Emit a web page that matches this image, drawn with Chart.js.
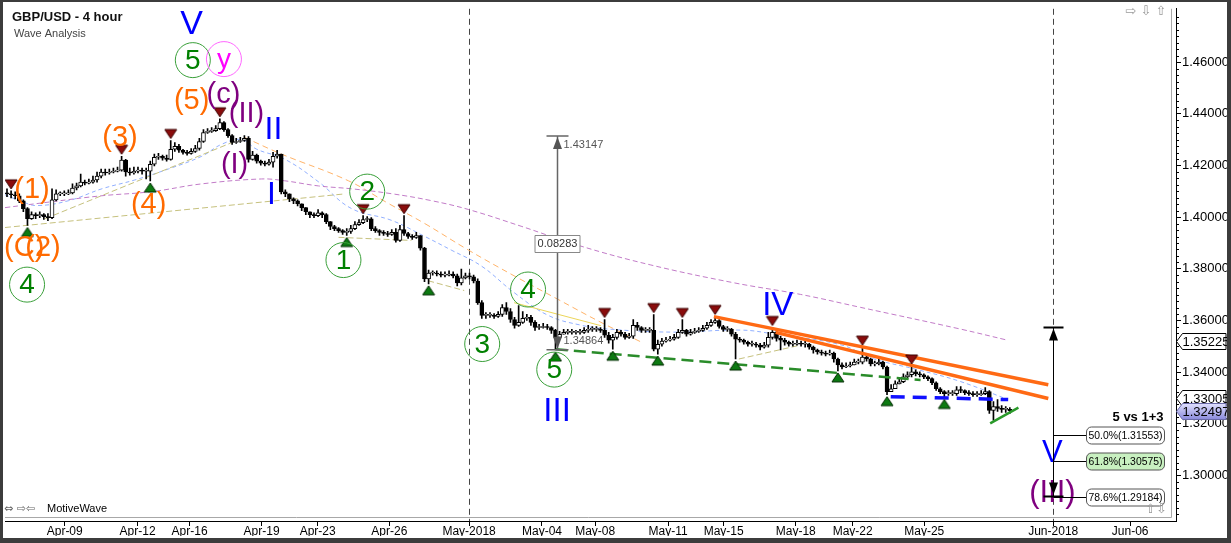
<!DOCTYPE html>
<html>
<head>
<meta charset="utf-8">
<script src="https://cdn.jsdelivr.net/npm/chart.js@4.4.1/dist/chart.umd.min.js"></script>
<style>
  html, body { margin: 0; padding: 0; background: #3c3c3c; }
  canvas { display: block; }
</style>
</head>
<body>
<canvas id="chart" width="1231" height="543"></canvas>
<script>
// -----------------------------------------------------------------------
// Data (GBP/USD 4h bars)
// -----------------------------------------------------------------------

const firstOpen = 1.4094;
const closes = [
  1.4090, 1.4087, 1.4083, 1.4063, 1.4033, 1.3994, 1.4010, 1.4006, 1.4010, 1.4002,
  1.3998, 1.4067, 1.4090, 1.4090, 1.4090, 1.4094, 1.4113, 1.4121, 1.4136, 1.4132,
  1.4136, 1.4144, 1.4159, 1.4175, 1.4171, 1.4175, 1.4178, 1.4182, 1.4221, 1.4175,
  1.4171, 1.4178, 1.4182, 1.4178, 1.4178, 1.4205, 1.4232, 1.4236, 1.4228, 1.4224,
  1.4263, 1.4274, 1.4259, 1.4251, 1.4247, 1.4255, 1.4266, 1.4293, 1.4328, 1.4332,
  1.4335, 1.4343, 1.4366, 1.4339, 1.4316, 1.4289, 1.4293, 1.4297, 1.4305, 1.4224,
  1.4240, 1.4217, 1.4209, 1.4205, 1.4213, 1.4236, 1.4244, 1.4098, 1.4090, 1.4071,
  1.4063, 1.4052, 1.4037, 1.4021, 1.4010, 1.4006, 1.4017, 1.4010, 1.3983, 1.3964,
  1.3956, 1.3948, 1.3941, 1.3945, 1.3956, 1.3971, 1.3979, 1.3991, 1.3994, 1.3956,
  1.3948, 1.3941, 1.3937, 1.3933, 1.3941, 1.3910, 1.3952, 1.3937, 1.3926, 1.3922,
  1.3929, 1.3880, 1.3761, 1.3784, 1.3784, 1.3780, 1.3776, 1.3776, 1.3780, 1.3773,
  1.3746, 1.3765, 1.3773, 1.3769, 1.3753, 1.3669, 1.3620, 1.3620, 1.3620, 1.3616,
  1.3624, 1.3650, 1.3635, 1.3604, 1.3581, 1.3593, 1.3608, 1.3612, 1.3593, 1.3573,
  1.3573, 1.3577, 1.3573, 1.3562, 1.3535, 1.3547, 1.3554, 1.3554, 1.3554, 1.3554,
  1.3554, 1.3562, 1.3566, 1.3566, 1.3566, 1.3562, 1.3543, 1.3524, 1.3535, 1.3554,
  1.3547, 1.3535, 1.3539, 1.3581, 1.3573, 1.3562, 1.3562, 1.3562, 1.3489, 1.3508,
  1.3520, 1.3524, 1.3528, 1.3535, 1.3554, 1.3562, 1.3547, 1.3554, 1.3558, 1.3562,
  1.3570, 1.3581, 1.3593, 1.3600, 1.3577, 1.3566, 1.3566, 1.3547, 1.3528, 1.3524,
  1.3516, 1.3508, 1.3508, 1.3505, 1.3497, 1.3505, 1.3535, 1.3554, 1.3531, 1.3524,
  1.3516, 1.3508, 1.3508, 1.3512, 1.3508, 1.3508, 1.3497, 1.3486, 1.3478, 1.3474,
  1.3470, 1.3474, 1.3451, 1.3428, 1.3420, 1.3424, 1.3428, 1.3439, 1.3439, 1.3458,
  1.3451, 1.3432, 1.3432, 1.3439, 1.3420, 1.3325, 1.3336, 1.3355, 1.3363, 1.3382,
  1.3390, 1.3401, 1.3394, 1.3390, 1.3382, 1.3375, 1.3359, 1.3336, 1.3325, 1.3317,
  1.3317, 1.3317, 1.3332, 1.3329, 1.3321, 1.3317, 1.3313, 1.3313, 1.3317, 1.3325,
  1.3252, 1.3267, 1.3260, 1.3256, 1.3256, 1.3250
];
const highs = [
  1.4110, 1.4102, 1.4098, 1.4090, 1.4067, 1.4037, 1.4021, 1.4017, 1.4021, 1.4014,
  1.4014, 1.4110, 1.4106, 1.4098, 1.4102, 1.4106, 1.4129, 1.4132, 1.4167, 1.4144,
  1.4148, 1.4159, 1.4175, 1.4186, 1.4186, 1.4186, 1.4190, 1.4194, 1.4236, 1.4224,
  1.4190, 1.4194, 1.4194, 1.4190, 1.4190, 1.4217, 1.4244, 1.4247, 1.4240, 1.4240,
  1.4297, 1.4289, 1.4282, 1.4263, 1.4259, 1.4266, 1.4278, 1.4305, 1.4339, 1.4343,
  1.4347, 1.4355, 1.4381, 1.4370, 1.4343, 1.4320, 1.4305, 1.4309, 1.4316, 1.4312,
  1.4255, 1.4244, 1.4221, 1.4217, 1.4224, 1.4251, 1.4259, 1.4244, 1.4106, 1.4090,
  1.4075, 1.4067, 1.4052, 1.4037, 1.4021, 1.4017, 1.4029, 1.4021, 1.4014, 1.3983,
  1.3968, 1.3960, 1.3952, 1.3956, 1.3968, 1.3983, 1.3991, 1.4006, 1.4002, 1.3998,
  1.3964, 1.3952, 1.3948, 1.3945, 1.3952, 1.3956, 1.3968, 1.4006, 1.3941, 1.3933,
  1.3941, 1.3929, 1.3883, 1.3795, 1.3792, 1.3792, 1.3788, 1.3788, 1.3792, 1.3788,
  1.3780, 1.3799, 1.3784, 1.3784, 1.3776, 1.3761, 1.3677, 1.3631, 1.3631, 1.3627,
  1.3635, 1.3662, 1.3669, 1.3646, 1.3612, 1.3658, 1.3635, 1.3624, 1.3620, 1.3600,
  1.3585, 1.3589, 1.3585, 1.3577, 1.3566, 1.3558, 1.3566, 1.3566, 1.3566, 1.3562,
  1.3566, 1.3573, 1.3581, 1.3577, 1.3577, 1.3573, 1.3604, 1.3554, 1.3547, 1.3566,
  1.3562, 1.3554, 1.3550, 1.3604, 1.3593, 1.3577, 1.3573, 1.3573, 1.3623, 1.3524,
  1.3531, 1.3535, 1.3539, 1.3547, 1.3566, 1.3604, 1.3566, 1.3566, 1.3570, 1.3573,
  1.3581, 1.3593, 1.3604, 1.3616, 1.3604, 1.3581, 1.3577, 1.3570, 1.3554, 1.3535,
  1.3528, 1.3520, 1.3520, 1.3516, 1.3512, 1.3516, 1.3554, 1.3573, 1.3566, 1.3539,
  1.3531, 1.3520, 1.3520, 1.3524, 1.3520, 1.3520, 1.3512, 1.3501, 1.3489, 1.3486,
  1.3482, 1.3486, 1.3478, 1.3455, 1.3436, 1.3436, 1.3439, 1.3451, 1.3451, 1.3497,
  1.3466, 1.3455, 1.3443, 1.3451, 1.3443, 1.3424, 1.3352, 1.3367, 1.3378, 1.3394,
  1.3401, 1.3424, 1.3409, 1.3401, 1.3394, 1.3386, 1.3378, 1.3363, 1.3340, 1.3329,
  1.3329, 1.3329, 1.3344, 1.3344, 1.3332, 1.3329, 1.3325, 1.3325, 1.3329, 1.3340,
  1.3329, 1.3286, 1.3294, 1.3271, 1.3267, 1.3263
];
const lows = [
  1.4079, 1.4075, 1.4071, 1.4056, 1.4021, 1.3968, 1.3991, 1.3994, 1.3998, 1.3991,
  1.3987, 1.3994, 1.4063, 1.4083, 1.4083, 1.4087, 1.4090, 1.4106, 1.4117, 1.4125,
  1.4129, 1.4132, 1.4136, 1.4152, 1.4163, 1.4167, 1.4171, 1.4175, 1.4178, 1.4159,
  1.4163, 1.4167, 1.4171, 1.4167, 1.4148, 1.4140, 1.4198, 1.4224, 1.4221, 1.4217,
  1.4221, 1.4255, 1.4251, 1.4244, 1.4240, 1.4244, 1.4251, 1.4259, 1.4289, 1.4324,
  1.4328, 1.4332, 1.4339, 1.4332, 1.4309, 1.4282, 1.4286, 1.4289, 1.4293, 1.4213,
  1.4221, 1.4209, 1.4201, 1.4198, 1.4201, 1.4194, 1.4228, 1.4090, 1.4079, 1.4060,
  1.4052, 1.4044, 1.4025, 1.4010, 1.3998, 1.3998, 1.4002, 1.3998, 1.3975, 1.3952,
  1.3948, 1.3941, 1.3933, 1.3929, 1.3937, 1.3952, 1.3968, 1.3975, 1.3983, 1.3948,
  1.3941, 1.3929, 1.3929, 1.3926, 1.3929, 1.3903, 1.3906, 1.3929, 1.3918, 1.3914,
  1.3918, 1.3872, 1.3750, 1.3742, 1.3776, 1.3773, 1.3769, 1.3769, 1.3773, 1.3765,
  1.3734, 1.3738, 1.3761, 1.3761, 1.3746, 1.3662, 1.3608, 1.3608, 1.3612, 1.3608,
  1.3612, 1.3616, 1.3624, 1.3593, 1.3570, 1.3577, 1.3589, 1.3600, 1.3581, 1.3562,
  1.3566, 1.3570, 1.3566, 1.3550, 1.3486, 1.3531, 1.3547, 1.3547, 1.3547, 1.3547,
  1.3547, 1.3550, 1.3554, 1.3558, 1.3558, 1.3554, 1.3535, 1.3512, 1.3489, 1.3528,
  1.3539, 1.3528, 1.3531, 1.3531, 1.3562, 1.3554, 1.3554, 1.3554, 1.3482, 1.3470,
  1.3501, 1.3516, 1.3520, 1.3524, 1.3531, 1.3550, 1.3539, 1.3543, 1.3550, 1.3554,
  1.3558, 1.3566, 1.3577, 1.3589, 1.3570, 1.3558, 1.3558, 1.3539, 1.3451, 1.3516,
  1.3508, 1.3501, 1.3501, 1.3497, 1.3486, 1.3493, 1.3497, 1.3528, 1.3520, 1.3486,
  1.3505, 1.3501, 1.3501, 1.3505, 1.3501, 1.3497, 1.3489, 1.3474, 1.3470, 1.3466,
  1.3463, 1.3466, 1.3439, 1.3405, 1.3413, 1.3417, 1.3420, 1.3428, 1.3432, 1.3432,
  1.3443, 1.3424, 1.3424, 1.3428, 1.3413, 1.3313, 1.3325, 1.3336, 1.3355, 1.3359,
  1.3378, 1.3382, 1.3386, 1.3382, 1.3375, 1.3367, 1.3352, 1.3329, 1.3317, 1.3302,
  1.3310, 1.3310, 1.3310, 1.3321, 1.3313, 1.3310, 1.3306, 1.3306, 1.3310, 1.3313,
  1.3240, 1.3214, 1.3248, 1.3244, 1.3244, 1.3240
];
// FX 4h bars open where the previous one closed
const opens = closes.map((c, i) => (i === 0 ? firstOpen : closes[i - 1]));

// swing markers (bar indexes)
const pivotHighIdx = [1, 28, 40, 52, 87, 97, 146, 158, 165, 173, 187, 209, 221];
const pivotLowIdx = [5, 35, 83, 103, 134, 148, 159, 178, 203, 215, 229];

// moving averages, [bar, price]
const maPurple = [[-0.5,1.4037],[11,1.4060],[23.2,1.4083],[35.4,1.4099],[47.6,1.4129],[62.2,1.4148],[67.8,1.4141],[76.1,1.4121],[84.1,1.4110],[93.9,1.4091],[103.7,1.4064],[112.7,1.4030],[125.6,1.3965],[140.2,1.3888],[157.3,1.3815],[177.6,1.3746],[193.9,1.3701],[208.5,1.3651],[232.9,1.3567],[244.4,1.3524]];
const maBlue = [[-0.5,1.4087],[3.7,1.4060],[7.3,1.4045],[15.1,1.4064],[23.2,1.4110],[31.2,1.4144],[39.5,1.4187],[47.6,1.4236],[52.4,1.4282],[57.3,1.4301],[61,1.4263],[67.8,1.4225],[76.1,1.4137],[84.1,1.4034],[93.9,1.3988],[102,1.3926],[108.5,1.3873],[115.9,1.3811],[123.9,1.3708],[132.2,1.3620],[140.2,1.3582],[146.8,1.3567],[162.9,1.3555],[179.3,1.3563],[187.3,1.3548],[203.7,1.3506],[211.7,1.3452],[222.4,1.3410],[232.9,1.3364],[244.4,1.3295]];
const maOrange = [[58,1.4309],[67.1,1.4244],[83.4,1.4141],[93.2,1.4053],[102,1.3976],[112.7,1.3873],[123.9,1.3773],[134.6,1.3682],[145.1,1.3593],[154.9,1.3517]];
const channelOlive = [
  [[-0.5,1.3960],[82.4,1.4090]],
  [[9.3,1.3994],[55.6,1.4293]],
  [[81,1.3922],[98.8,1.3910]],
  [[102.9,1.3754],[111.7,1.3716]],
  [[178.8,1.3451],[193.9,1.3505]]
];
const channelYellow = [[123.9,1.3669],[145.1,1.3580]];

// trend lines
const orangeUpper = [[172.7,1.3615],[254.4,1.3351]];
const orangeLower = [[187.8,1.3554],[254.4,1.3298]];
const greenSupport = [[134.1,1.3489],[223.2,1.3370]];
const blueSupport = [[215.9,1.3305],[244.6,1.3294]];
const greenWedge = [[240.2,1.3202],[247.1,1.3263]];

// measurement tool and fib projection
const measureBar = 134.4, measureHigh = 1.43147, measureLow = 1.34864;
const fibBar = 255.6, fibStart = 1.3573;
const fibPct = ['50.0%', '61.8%', '78.6%'];
const fibValues = [1.31553, 1.30575, 1.29184];
const axisTags = [1.35225, 1.33005];
const lastPrice = 1.32497;

// axes
const xTickIdx = [14.1, 31.9, 44.6, 62.2, 75.9, 93.4, 112.9, 130.7, 143.7, 161.5, 175.1, 192.7, 206.6, 224.1, 255.6, 274.4];
const xTickLabels = ['Apr-09', 'Apr-12', 'Apr-16', 'Apr-19', 'Apr-23', 'Apr-26', 'May-2018', 'May-04', 'May-08', 'May-11', 'May-15', 'May-18', 'May-22', 'May-25', 'Jun-2018', 'Jun-06'];
const yTickValues = [1.30, 1.32, 1.34, 1.36, 1.38, 1.40, 1.42, 1.44, 1.46];
const monthStarts = [112.9, 255.6];

// -----------------------------------------------------------------------
// Wave labels: [text, bar, price, colour, size, ring]
// -----------------------------------------------------------------------

const BLUE = "#0000ff", ORANGE = "#ff6a00", PURPLE = "#7f007f", GREEN = "#008000", PINK = "#ff00ff";
const waveLabels = [
  ["V", 45.1, 1.4749, BLUE, 34],
  ["5", 45.4, 1.4608, GREEN, 28, "#3aa03a"],
  ["y", 53.0, 1.4612, PINK, 28, "#ff66ff"],
  ["(5)", 45.1, 1.4452, ORANGE, 29],
  ["(c)", 52.9, 1.4478, PURPLE, 29],
  ["(II)", 58.5, 1.4405, PURPLE, 29],
  ["II", 65.1, 1.4340, BLUE, 32],
  ["(I)", 55.6, 1.4206, PURPLE, 29],
  ["I", 64.6, 1.4091, BLUE, 32],
  ["(3)", 27.6, 1.4309, ORANGE, 29],
  ["(4)", 34.6, 1.4052, ORANGE, 29],
  ["(1)", 6.1, 1.4110, ORANGE, 29],
  ["(C)", 4.2, 1.3886, ORANGE, 29],
  ["(2)", 8.8, 1.3886, ORANGE, 29],
  ["4", 4.9, 1.3739, GREEN, 28, "#3aa03a"],
  ["1", 82.2, 1.3834, GREEN, 28, "#3aa03a"],
  ["2", 88.0, 1.4099, GREEN, 28, "#3aa03a"],
  ["3", 116.1, 1.3509, GREEN, 28, "#3aa03a"],
  ["4", 127.3, 1.3720, GREEN, 28, "#3aa03a"],
  ["5", 133.7, 1.3410, GREEN, 28, "#3aa03a"],
  ["III", 134.4, 1.3249, BLUE, 33],
  ["IV", 188.3, 1.3662, BLUE, 33],
  ["V", 255.4, 1.3088, BLUE, 31],
  ["(III)", 255.4, 1.2935, PURPLE, 31]
];

const FONT = "'Liberation Sans', Arial, sans-serif";

// -----------------------------------------------------------------------
// Helpers
// -----------------------------------------------------------------------

function pts(list) {
  return list.map(([x, y]) => ({ x, y }));
}

function text(ctx, s, x, y, color, size, opts = {}) {
  ctx.save();
  ctx.font = `${opts.bold ? "bold " : ""}${size}px ${opts.family || FONT}`;
  ctx.fillStyle = color;
  ctx.textAlign = opts.align || "center";
  ctx.textBaseline = opts.baseline || "middle";
  if (opts.maxWidth) ctx.fillText(s, x, y, opts.maxWidth);
  else ctx.fillText(s, x, y);
  ctx.restore();
}

function arrowHead(ctx, x, tipY, dir, color) {
  // dir -1 = pointing up, 1 = pointing down
  ctx.beginPath();
  ctx.moveTo(x, tipY);
  ctx.lineTo(x - 4.5, tipY - dir * 12);
  ctx.lineTo(x + 4.5, tipY - dir * 12);
  ctx.closePath();
  ctx.fillStyle = color;
  ctx.fill();
}

function roundBox(ctx, x, y, w, h, r, fill, stroke) {
  ctx.beginPath();
  ctx.roundRect(x, y, w, h, r);
  ctx.fillStyle = fill;
  ctx.fill();
  ctx.strokeStyle = stroke;
  ctx.lineWidth = 1;
  ctx.stroke();
}

// triangle markers drawn into small images so the point centre sits on the high/low
function markerImage(down) {
  const c = document.createElement("canvas");
  c.width = 14;
  c.height = 30;
  const g = c.getContext("2d");
  g.beginPath();
  if (down) {
    g.moveTo(1, 4); g.lineTo(13, 4); g.lineTo(7, 13);
  } else {
    g.moveTo(7, 17); g.lineTo(13, 26); g.lineTo(1, 26);
  }
  g.closePath();
  g.fillStyle = down ? "#8a0c0c" : "#0d7a12";
  g.fill();
  g.strokeStyle = down ? "#3a0000" : "#002a00";
  g.lineWidth = 1;
  g.stroke();
  return c;
}

// -----------------------------------------------------------------------
// Plugins
// -----------------------------------------------------------------------

const backdrop = {
  id: "backdrop",
  beforeDraw(chart) {
    const { ctx, width, height } = chart;
    ctx.save();
    ctx.fillStyle = "#ffffff";
    ctx.fillRect(0, 0, width, height);
    ctx.restore();
  },
  beforeDatasetsDraw(chart) {
    const { ctx, chartArea: a, scales: { x } } = chart;
    ctx.save();
    ctx.strokeStyle = "#a8a8a8";
    ctx.lineWidth = 1;
    ctx.beginPath();
    ctx.moveTo(a.left, a.bottom - 3.5);
    ctx.lineTo(a.right - 4.5, a.bottom - 3.5);
    ctx.lineTo(a.right - 4.5, a.top);
    ctx.stroke();
    ctx.strokeStyle = "#444";
    ctx.setLineDash([6, 4]);
    monthStarts.forEach((m) => {
      const px = Math.round(x.getPixelForValue(m)) + 0.5;
      ctx.beginPath();
      ctx.moveTo(px, a.top);
      ctx.lineTo(px, a.bottom);
      ctx.stroke();
    });
    ctx.restore();
  },
};

const annotations = {
  id: "annotations",
  afterDatasetsDraw(chart) {
    const { ctx, scales: { x, y } } = chart;
    ctx.save();

    // title
    text(ctx, "GBP/USD - 4 hour", 12, 17, "#111", 13, { bold: true, align: "left" });
    text(ctx, "Wave Analysis", 14, 34, "#444", 11, { align: "left" });

    // wave labels
    waveLabels.forEach(([s, b, p, color, size, ring]) => {
      const px = x.getPixelForValue(b), py = y.getPixelForValue(p);
      if (ring) {
        ctx.beginPath();
        ctx.arc(px, py, 17.5, 0, Math.PI * 2);
        ctx.strokeStyle = ring;
        ctx.lineWidth = 1;
        ctx.stroke();
      }
      text(ctx, s, px, py + 1, color, size);
    });

    // measurement tool
    const mx = Math.round(x.getPixelForValue(measureBar)) + 0.5;
    const mt = y.getPixelForValue(measureHigh), mb = y.getPixelForValue(measureLow);
    ctx.strokeStyle = "#666";
    ctx.lineWidth = 1.5;
    ctx.beginPath();
    ctx.moveTo(mx, mt); ctx.lineTo(mx, mb);
    ctx.moveTo(mx - 11, mt); ctx.lineTo(mx + 11, mt);
    ctx.moveTo(mx - 11, mb); ctx.lineTo(mx + 11, mb);
    ctx.stroke();
    arrowHead(ctx, mx, mt + 1, -1, "#555");
    arrowHead(ctx, mx, mb - 1, 1, "#555");
    text(ctx, measureHigh.toFixed(5), mx + 6, mt + 9, "#555", 11, { align: "left" });
    text(ctx, measureLow.toFixed(5), mx + 6, mb - 9, "#555", 11, { align: "left" });
    const mid = (mt + mb) / 2;
    roundBox(ctx, mx - 22.5, Math.round(mid - 8) + 0.5, 45, 17, 0, "#fff", "#888");
    text(ctx, (measureHigh - measureLow).toFixed(5), mx, mid + 1, "#333", 11);

    // fibonacci projection
    const fx = Math.round(x.getPixelForValue(fibBar)) + 0.5;
    const ft = y.getPixelForValue(fibStart);
    const fb = y.getPixelForValue(fibValues[fibValues.length - 1]);
    ctx.strokeStyle = "#000";
    ctx.lineWidth = 1;
    ctx.beginPath();
    ctx.moveTo(fx, ft); ctx.lineTo(fx, fb);
    ctx.stroke();
    ctx.lineWidth = 2;
    ctx.beginPath();
    ctx.moveTo(fx - 10, ft); ctx.lineTo(fx + 10, ft);
    ctx.moveTo(fx - 10, fb); ctx.lineTo(fx + 10, fb);
    ctx.stroke();
    arrowHead(ctx, fx, ft + 1, -1, "#000");
    arrowHead(ctx, fx, fb - 2, 1, "#000");
    fibValues.forEach((v, i) => {
      const py = Math.round(y.getPixelForValue(v)) + 0.5;
      ctx.strokeStyle = "#000";
      ctx.lineWidth = 1;
      ctx.beginPath();
      ctx.moveTo(fx, py); ctx.lineTo(fx + 33, py);
      ctx.stroke();
      roundBox(ctx, fx + 33, py - 8.5, 78, 17, 5, i === 1 ? "#c8f0c0" : "#fff", "#555");
      text(ctx, `${fibPct[i]}(${v.toFixed(5)})`, fx + 72, py + 0.5, "#000", 11, { maxWidth: 74 });
    });
    text(ctx, "5 vs 1+3", fx + 110, y.getPixelForValue(fibValues[0]) - 18, "#000", 13, { bold: true, align: "right" });

    // toolbar glyphs
    text(ctx, "⇨ ⇩ ⇧", 1146, 12, "#999", 13, { family: "'DejaVu Sans'" });
    text(ctx, "⇔ ⇨⇦", 4, 509, "#666", 11, { family: "'DejaVu Sans'", align: "left" });
    text(ctx, "MotiveWave", 47, 509, "#000", 11, { align: "left" });
    text(ctx, "⇧⇩", 1156, 510, "#999", 13, { family: "'DejaVu Sans'" });

    ctx.restore();
  },
  afterDraw(chart) {
    const { ctx, chartArea: a, scales: { y }, width, height } = chart;
    ctx.save();

    // minor ticks on the price axis
    ctx.strokeStyle = "#000";
    ctx.lineWidth = 1;
    ctx.beginPath();
    for (let k = 513; k <= 592; k++) {
      if (k % 8 === 0) continue;
      const py = Math.round(y.getPixelForValue(k * 0.0025)) + 0.5;
      if (py < a.top || py > a.bottom) continue;
      ctx.moveTo(a.right, py);
      ctx.lineTo(a.right + 3, py);
    }
    ctx.stroke();

    // price tags on the axis
    const tag = (v, fill, stroke) => {
      const py = Math.round(y.getPixelForValue(v)) + 0.5;
      const x0 = a.right + 0.5;
      ctx.beginPath();
      ctx.moveTo(x0, py);
      ctx.lineTo(x0 + 6, py - 8);
      ctx.lineTo(width - 5, py - 8);
      ctx.lineTo(width - 5, py + 8);
      ctx.lineTo(x0 + 6, py + 8);
      ctx.closePath();
      ctx.fillStyle = fill;
      ctx.fill();
      ctx.strokeStyle = stroke;
      ctx.stroke();
      text(ctx, v.toFixed(5), x0 + 6, py + 1, "#000", 13, { align: "left" });
    };
    axisTags.forEach((v) => tag(v, "#fff", "#000"));
    const lp = y.getPixelForValue(lastPrice);
    const grad = ctx.createLinearGradient(0, lp - 8, 0, lp + 8);
    grad.addColorStop(0, "#e4e4ff");
    grad.addColorStop(1, "#8c8cdc");
    tag(lastPrice, grad, "#6a6aa8");

    // window frame
    ctx.fillStyle = "#3c3c3c";
    ctx.fillRect(0, 0, width, 2);
    ctx.fillRect(0, 0, 3, height);
    ctx.fillRect(0, height - 5, width, 5);
    ctx.fillRect(width - 4, 0, 4, height);
    ctx.restore();
  },
};

// -----------------------------------------------------------------------
// Chart
// -----------------------------------------------------------------------

const wickData = closes.map((c, i) => ({ x: i, y: [lows[i], highs[i]] }));
const bodyData = closes.map((c, i) => ({ x: i, y: [opens[i], c] }));
const bodyColors = closes.map((c, i) => (c >= opens[i] ? "#ffffff" : "#000000"));

const lineSet = (data, color, width, dash, order, tension = 0) => ({
  type: "line",
  data: pts(data),
  borderColor: color,
  borderWidth: width,
  borderDash: dash,
  pointRadius: 0,
  fill: false,
  tension,
  order,
});

const datasets = [
  lineSet(maPurple, "#c27cc8", 1, [5, 3], 20, 0.4),
  lineSet(maBlue, "#92b0ff", 1, [4, 3], 20, 0.4),
  lineSet(maOrange, "#ffb46a", 1, [6, 4], 20, 0.4),
  ...channelOlive.map((seg) => lineSet(seg, "#c6c17e", 1, [6, 3], 19)),
  lineSet(channelYellow, "#ecd65a", 1, [], 19),
  {
    type: "bar",
    data: wickData,
    backgroundColor: "#000",
    barThickness: 1,
    grouped: false,
    order: 6,
  },
  {
    type: "bar",
    data: bodyData,
    backgroundColor: bodyColors,
    borderColor: "#000",
    borderWidth: 1,
    borderSkipped: false,
    barThickness: 4,
    minBarLength: 1,
    grouped: false,
    order: 5,
  },
  lineSet(orangeUpper, "#ff6a14", 3.5, [], 3),
  lineSet(orangeLower, "#ff6a14", 3.5, [], 3),
  lineSet(greenSupport, "#2a8c2a", 2.5, [12, 6], 3),
  lineSet(blueSupport, "#1010ff", 3.5, [14, 8], 3),
  lineSet(greenWedge, "#2a9a2a", 2.5, [], 3),
  {
    type: "line",
    data: pivotHighIdx.map((i) => ({ x: i, y: highs[i] })),
    showLine: false,
    pointStyle: markerImage(true),
    order: 1,
  },
  {
    type: "line",
    data: pivotLowIdx.map((i) => ({ x: i, y: lows[i] })),
    showLine: false,
    pointStyle: markerImage(false),
    order: 1,
  },
];

new Chart(document.getElementById("chart"), {
  type: "bar",
  data: { datasets },
  options: {
    animation: false,
    responsive: false,
    events: [],
    layout: { padding: { left: 3, top: 3, right: 0, bottom: 7 } },
    plugins: { legend: { display: false }, tooltip: { enabled: false } },
    scales: {
      x: {
        type: "linear",
        min: -0.488,
        max: 285.6,
        offset: false,
        afterBuildTicks: (s) => { s.ticks = xTickIdx.map((v) => ({ value: v })); },
        afterFit: (s) => { s.height = 15; },
        grid: { drawOnChartArea: false, tickLength: 5, color: "#000", offset: false },
        border: { color: "#000" },
        ticks: {
          autoSkip: false,
          maxRotation: 0,
          padding: -2,
          color: "#000",
          font: { family: FONT, size: 12 },
          callback: (v, i) => xTickLabels[i],
        },
      },
      y: {
        type: "linear",
        position: "right",
        min: 1.28239,
        max: 1.48067,
        afterBuildTicks: (s) => { s.ticks = yTickValues.map((v) => ({ value: v })); },
        afterFit: (s) => { s.width = 55; },
        grid: { drawOnChartArea: false, tickLength: 5, color: "#000" },
        border: { color: "#000" },
        ticks: {
          padding: 1,
          color: "#000",
          font: { family: FONT, size: 13 },
          callback: (v) => Number(v).toFixed(5),
        },
      },
    },
  },
  plugins: [backdrop, annotations],
});
</script>
</body>
</html>
